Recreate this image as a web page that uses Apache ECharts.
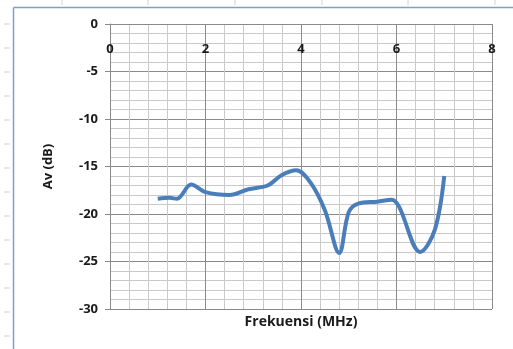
<!DOCTYPE html>
<html>
<head>
<meta charset="utf-8">
<script src="https://cdn.jsdelivr.net/npm/echarts@6/dist/echarts.min.js"></script>
<style>html,body{margin:0;padding:0;background:#fff;}#c{width:513px;height:349px;}</style>
</head>
<body>
<div id="c"></div>
<script>
var freq = [1.0, 1.25, 1.4, 1.7, 2.0, 2.5, 2.9, 3.3, 3.6, 3.9, 4.2, 4.5, 4.8, 5.0, 5.2, 5.6, 5.9, 6.05, 6.5, 6.8, 7.0];
var gain = [-18.4, -18.3, -18.4, -16.9, -17.7, -18.0, -17.4, -17.0, -15.9, -15.4, -16.7, -19.6, -24.1, -19.8, -18.9, -18.7, -18.5, -19.2, -24.0, -21.7, -16.0];
var xTicks = [0, 2, 4, 6, 8];
var yTicks = [0, -5, -10, -15, -20, -25, -30];
var xTitle = 'Frekuensi (MHz)';
var yTitle = 'Av (dB)';

var chart = echarts.init(document.getElementById('c'), null, {renderer: 'canvas'});
var font = 'Open Sans, Liberation Sans, sans-serif';
var ruler = [];
[24, 48, 72, 96, 120, 144, 168, 192, 216, 240, 264, 288, 312, 336].forEach(function (y) {
  ruler.push({type: 'line', shape: {x1: 4, y1: y, x2: 10, y2: y}, style: {stroke: '#d0d0d0', lineWidth: 1}, silent: true});
});
[62, 148, 235, 322, 408, 495].forEach(function (x) {
  ruler.push({type: 'line', shape: {x1: x, y1: 0, x2: x, y2: 5}, style: {stroke: '#d0d0d0', lineWidth: 1}, silent: true});
});
var option = {
  animation: false,
  grid: {left: 110, top: 24, right: 21, bottom: 40},
  xAxis: {
    type: 'value', min: xTicks[0], max: xTicks[xTicks.length - 1], interval: 2,
    position: 'top',
    axisLine: {show: true, onZero: false, lineStyle: {color: '#8a8a8a', width: 1}},
    axisTick: {show: false},
    axisLabel: {inside: true, margin: 19, color: '#1a1a1a', fontSize: 13, fontWeight: 'bold', fontFamily: font},
    splitLine: {show: true, lineStyle: {color: '#8a8a8a', width: 1}},
    minorTick: {show: false, splitNumber: 5},
    minorSplitLine: {show: true, lineStyle: {color: '#c9c9c9', width: 1}}
  },
  yAxis: {
    type: 'value', min: yTicks[yTicks.length - 1], max: yTicks[0], interval: 5,
    axisLine: {show: true, lineStyle: {color: '#8a8a8a', width: 1}},
    axisTick: {show: true, length: 5, lineStyle: {color: '#8a8a8a'}},
    axisLabel: {margin: 12, color: '#1a1a1a', fontSize: 13, fontWeight: 'bold', fontFamily: font},
    splitLine: {show: true, lineStyle: {color: '#8a8a8a', width: 1}},
    minorTick: {show: false, splitNumber: 5},
    minorSplitLine: {show: true, lineStyle: {color: '#c9c9c9', width: 1}},
    name: yTitle, nameLocation: 'middle', nameGap: 55, nameRotate: 90,
    nameTextStyle: {color: '#1a1a1a', fontSize: 13, fontWeight: 'bold', fontFamily: font}
  },
  graphic: [
    {type: 'text', x: 301, y: 315, style: {text: xTitle, fill: '#1a1a1a', font: 'bold 14px ' + font, textAlign: 'center'}},
    {type: 'line', shape: {x1: 13.5, y1: 7.5, x2: 513, y2: 7.5}, style: {stroke: '#7f9fcf', lineWidth: 1.5}, silent: true},
    {type: 'line', shape: {x1: 13.5, y1: 7.5, x2: 13.5, y2: 349}, style: {stroke: '#7f9fcf', lineWidth: 1.5}, silent: true}
  ].concat(ruler),
  series: [{
    type: 'line',
    data: freq.map(function (f, i) { return [f, gain[i]]; }),
    smooth: 0.35,
    showSymbol: false,
    lineStyle: {color: '#4A7EBB', width: 4}
  }]
};
chart.setOption(option);
</script>
</body>
</html>
